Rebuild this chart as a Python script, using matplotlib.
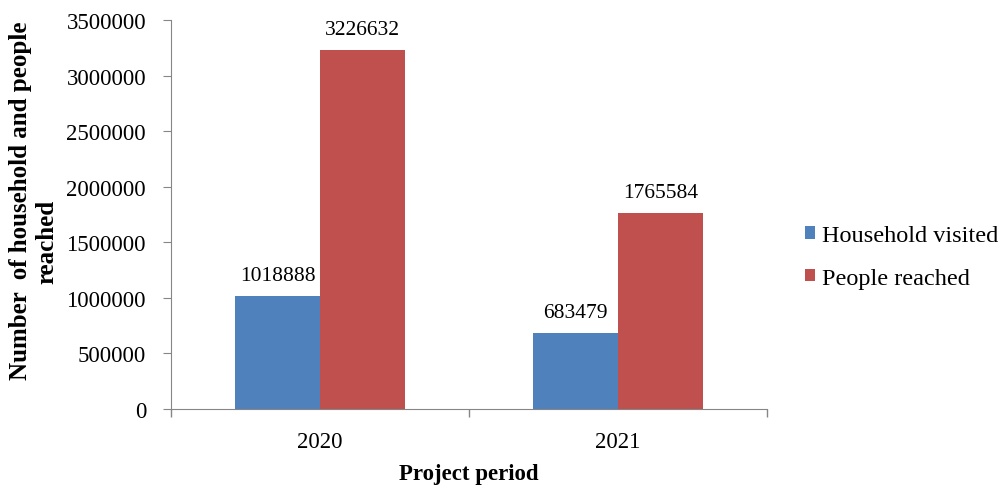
import numpy as np
import matplotlib.pyplot as plt

# Chart data.
periods = ["2020", "2021"]
households = [1018888, 683479]
people = [3226632, 1765584]
series_names = ["Household visited", "People reached"]

blue = "#4F81BD"
red = "#C0504D"
axis_grey = "#868686"

plt.rcParams['font.family'] = ['Liberation Serif', 'DejaVu Serif']

fig = plt.figure(figsize=(10, 4.89), dpi=100)
ax = fig.add_axes([0.171, 0.1616, 0.596, 0.7955])

x = np.arange(len(periods))
w = 0.285
b1 = ax.bar(x - w / 2, households, w, color=blue, label=series_names[0])
b2 = ax.bar(x + w / 2, people, w, color=red, label=series_names[1])

# Value labels above bars.
for bars in (b1, b2):
    for rect in bars:
        h = rect.get_height()
        ax.annotate("{}".format(h), (rect.get_x() + rect.get_width() / 2, h),
                    xytext=(0, 8), textcoords="offset points",
                    ha="center", va="bottom", fontsize=15.5)

ax.set_xlim(-0.5, len(periods) - 0.5)
ax.set_ylim(0, 3500000)
ax.set_yticks(np.arange(0, 3500001, 500000))
ax.set_yticklabels(["{}".format(v) for v in range(0, 3500001, 500000)])

# Category ticks sit between groups, labels at group centres.
ax.set_xticks([-0.5, 0.5, 1.5])
ax.set_xticklabels([])
ax.set_xticks(x, minor=True)
ax.set_xticklabels(periods, minor=True)
ax.tick_params(axis="x", which="minor", length=0, labelsize=16.5, pad=16)
ax.tick_params(axis="x", which="major", length=6, color=axis_grey, width=1)
ax.tick_params(axis="y", length=6, color=axis_grey, labelsize=16.5, pad=12)

for side in ("top", "right"):
    ax.spines[side].set_visible(False)
for side in ("left", "bottom"):
    ax.spines[side].set_color(axis_grey)

ax.set_xlabel("Project period", fontsize=16.5, fontweight="bold", labelpad=8)

# Y title is wrapped in two lines, not centred on each other.
fig.text(0.021, 1 - 201 / 489, "Number  of household and people", rotation=90,
         ha="center", va="center", fontsize=18, fontweight="bold")
fig.text(0.047, 1 - 242 / 489, "reached", rotation=90,
         ha="center", va="center", fontsize=18, fontweight="bold")

fig.legend(loc="center left", bbox_to_anchor=(0.805, 1 - 258 / 489),
           frameon=False, fontsize=17.5, handlelength=0.4, handleheight=0.4,
           handletextpad=0.3, labelspacing=0.9, borderpad=0, borderaxespad=0)

fig.savefig("out.png", dpi=100)
